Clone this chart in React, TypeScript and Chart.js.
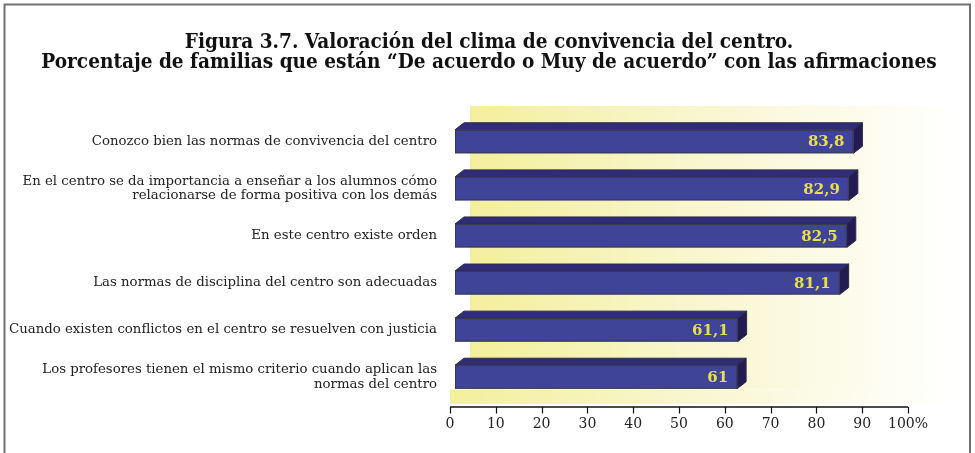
import React, { useEffect, useRef } from 'react';
import { Chart, registerables } from 'chart.js';

Chart.register(...registerables);

const titleLines = [
  'Figura 3.7. Valoración del clima de convivencia del centro.',
  'Porcentaje de familias que están “De acuerdo o Muy de acuerdo” con las afirmaciones',
];

const categories: string[][] = [
  ['Conozco bien las normas de convivencia del centro'],
  ['En el centro se da importancia a enseñar a los alumnos cómo', 'relacionarse de forma positiva con los demás'],
  ['En este centro existe orden'],
  ['Las normas de disciplina del centro son adecuadas'],
  ['Cuando existen conflictos en el centro se resuelven con justicia'],
  ['Los profesores tienen el mismo criterio cuando aplican las', 'normas del centro'],
];

const values = [83.8, 82.9, 82.5, 81.1, 61.1, 61];

const xTickLabels = ['0', '10', '20', '30', '40', '50', '60', '70', '80', '90', '100%'];

const fmt = (v: number) => String(v).replace('.', ',');

export default function App() {
  const ref = useRef<HTMLCanvasElement>(null);

  useEffect(() => {
    if (!ref.current) return;
    const depthX = 9;
    const depthY = 7;
    const barH = 23.5;
    const frontInset = 5;

    const backgroundPlugin = {
      id: 'bg3d',
      beforeDraw(chart: any) {
        const { ctx, chartArea } = chart;
        ctx.save();
        ctx.fillStyle = '#ffffff';
        ctx.fillRect(0, 0, chart.width, chart.height);
        // frame
        ctx.strokeStyle = '#707070';
        ctx.lineWidth = 2;
        ctx.beginPath();
        ctx.moveTo(4.5, chart.height);
        ctx.lineTo(4.5, 4.5);
        ctx.lineTo(970, 4.5);
        ctx.lineTo(970, chart.height);
        ctx.stroke();
        // title
        ctx.fillStyle = '#111111';
        ctx.font = 'bold 20.6px "DejaVu Serif Condensed", "DejaVu Serif", serif';
        ctx.textAlign = 'center';
        ctx.textBaseline = 'middle';
        ctx.fillText(titleLines[0], 489, 43);
        ctx.fillText(titleLines[1], 489, 63);
        // back wall
        const wallL = chartArea.left + 20;
        const wallR = 955;
        const wallT = chartArea.top - 12;
        const wallB = chartArea.bottom - 11;
        const g = ctx.createLinearGradient(wallL, 0, wallR, 0);
        g.addColorStop(0, '#f3ef9c');
        g.addColorStop(0.45, '#f8f6cc');
        g.addColorStop(1, '#ffffff');
        ctx.fillStyle = g;
        ctx.fillRect(wallL, wallT, wallR - wallL, wallB - wallT);
        // floor
        const g2 = ctx.createLinearGradient(chartArea.left, 0, wallR, 0);
        g2.addColorStop(0, '#f3ef9c');
        g2.addColorStop(0.45, '#f8f6cc');
        g2.addColorStop(1, '#ffffff');
        ctx.fillStyle = g2;
        ctx.fillRect(chartArea.left, wallB, wallR - chartArea.left, chartArea.bottom + 3.5 - wallB);
        ctx.restore();
      },
    };

    const barsPlugin = {
      id: 'bars3d',
      afterDatasetsDraw(chart: any) {
        const { ctx } = chart;
        const meta = chart.getDatasetMeta(0);
        const left = chart.scales.x.getPixelForValue(0);
        ctx.save();
        meta.data.forEach((el: any, i: number) => {
          const { x, y } = el.getProps(['x', 'y'], true);
          const x0 = left + frontInset;
          const x1 = x;
          const yT = y - barH / 2;
          const yB = y + barH / 2;
          ctx.lineWidth = 1;
          ctx.strokeStyle = '#2a2a48';
          // top face
          ctx.fillStyle = '#312c79';
          ctx.beginPath();
          ctx.moveTo(x0, yT);
          ctx.lineTo(x0 + depthX, yT - depthY);
          ctx.lineTo(x1 + depthX, yT - depthY);
          ctx.lineTo(x1, yT);
          ctx.closePath();
          ctx.fill();
          ctx.stroke();
          // side face
          ctx.fillStyle = '#231b52';
          ctx.beginPath();
          ctx.moveTo(x1, yT);
          ctx.lineTo(x1 + depthX, yT - depthY);
          ctx.lineTo(x1 + depthX, yB - depthY);
          ctx.lineTo(x1, yB);
          ctx.closePath();
          ctx.fill();
          ctx.stroke();
          // front face
          ctx.fillStyle = '#3f4499';
          ctx.fillRect(x0, yT, x1 - x0, yB - yT);
          ctx.strokeStyle = '#3a3a4a';
          ctx.strokeRect(x0 + 0.5, yT + 0.5, x1 - x0 - 1, yB - yT - 1);
          // value label
          ctx.fillStyle = '#e8df4c';
          ctx.font = 'bold 15px "DejaVu Serif", serif';
          ctx.textAlign = 'right';
          ctx.textBaseline = 'middle';
          ctx.fillText(fmt(values[i]), x1 - 9, y + 1);
        });
        ctx.restore();
      },
    };

    const axisPlugin = {
      id: 'axisLine',
      afterDraw(chart: any) {
        const { ctx, chartArea } = chart;
        const sx = chart.scales.x;
        const yLine = chartArea.bottom + 6.5;
        ctx.save();
        ctx.strokeStyle = '#111111';
        ctx.lineWidth = 1.5;
        ctx.beginPath();
        ctx.moveTo(sx.getPixelForValue(0), yLine);
        ctx.lineTo(sx.getPixelForValue(100), yLine);
        ctx.stroke();
        ctx.lineWidth = 1.2;
        sx.ticks.forEach((t: any) => {
          const px = Math.round(sx.getPixelForValue(t.value)) + 0.5;
          ctx.beginPath();
          ctx.moveTo(px, yLine);
          ctx.lineTo(px, yLine + 6.5);
          ctx.stroke();
        });
        ctx.restore();
      },
    };

    const chart = new Chart(ref.current, {
      type: 'bar',
      data: {
        labels: categories,
        datasets: [
          {
            data: values,
            xAxisID: 'xb',
            yAxisID: 'y',
            backgroundColor: 'rgba(0,0,0,0)',
            borderWidth: 0,
          },
        ],
      },
      options: {
        indexAxis: 'y',
        animation: false,
        responsive: false,
        layout: { padding: { left: 0, right: 67, top: 118, bottom: 0 } },
        plugins: {
          legend: { display: false },
          tooltip: { enabled: false },
          title: { display: false },
        },
        scales: {
          x: {
            type: 'linear',
            position: 'bottom',
            min: 0,
            max: 100,
            grid: { display: false, drawTicks: false },
            border: { display: false },
            ticks: {
              stepSize: 10,
              autoSkip: false,
              maxRotation: 0,
              padding: 15.5,
              color: '#222222',
              font: { family: '"DejaVu Serif", serif', size: 14 },
              callback: (_v: any, i: number) => xTickLabels[i],
            },
            afterFit: (s: any) => {
              s.height = 52.5;
            },
          },
          xb: {
            type: 'linear',
            display: false,
            min: 4.71,
            max: 94.5,
          },
          y: {
            type: 'category',
            position: 'left',
            grid: { display: false, drawTicks: false },
            border: { display: false },
            ticks: {
              padding: 13,
              color: '#222222',
              font: { family: '"DejaVu Serif", serif', size: 13.3, lineHeight: 1.08 },
            },
            afterFit: (s: any) => {
              s.width = 450;
            },
          },
        },
      } as any,
      plugins: [backgroundPlugin, barsPlugin, axisPlugin],
    });

    return () => chart.destroy();
  }, []);

  return (
    <div style={{ position: 'fixed', left: 0, top: 0, width: 975, height: 453, background: '#ffffff' }}>
      <canvas ref={ref} width={975} height={453} style={{ width: 975, height: 453, display: 'block' }} />
    </div>
  );
}
